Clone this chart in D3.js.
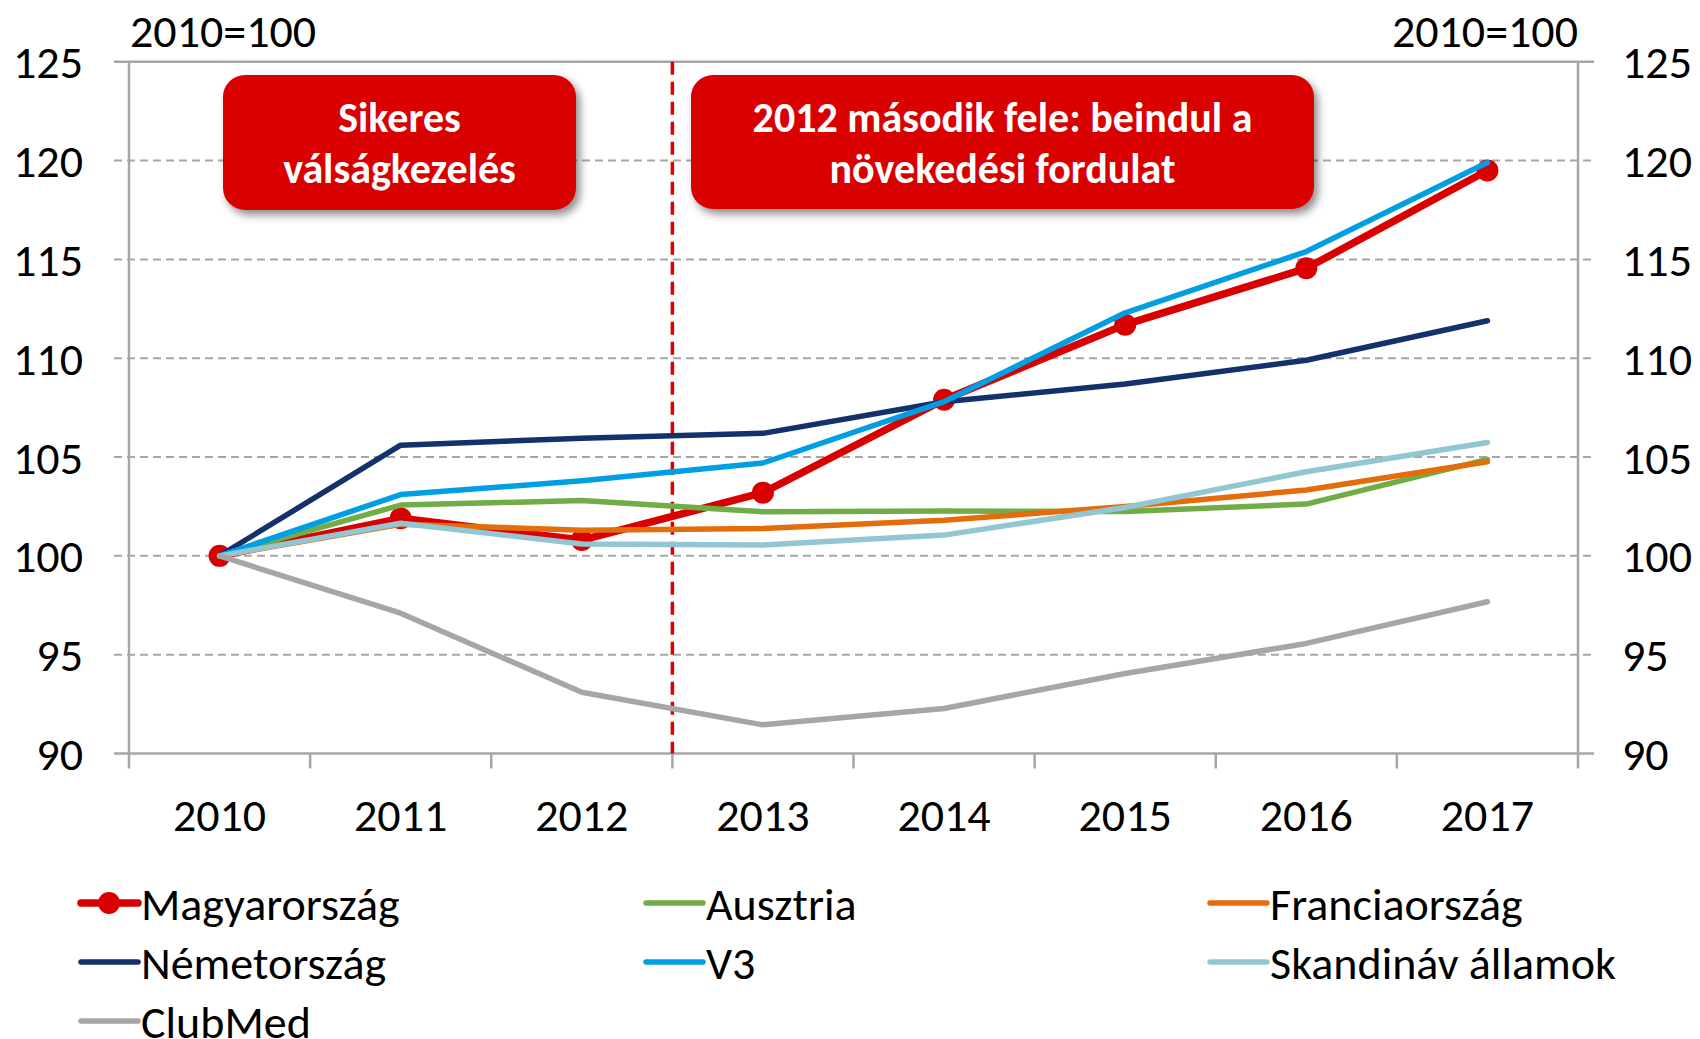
<!DOCTYPE html>
<html><head><meta charset="utf-8">
<script src="https://cdn.jsdelivr.net/npm/d3@7"></script>
<style>body{margin:0;background:#fff}svg{display:block}text{font-family:Carlito,Calibri,Lato,sans-serif}</style>
</head><body><svg id="c" width="1700" height="1039"></svg>
<script>
const years = ["2010","2011","2012","2013","2014","2015","2016","2017"];
const yTicks = [90,95,100,105,110,115,120,125];
const magyarorszag = [100,101.9,100.8,103.2,107.9,111.7,114.55,119.5];
const ausztria = [100,102.57,102.8,102.23,102.27,102.25,102.62,104.88];
const franciaorszag = [100,101.6,101.3,101.38,101.8,102.5,103.33,104.76];
const nemetorszag = [100,105.6,105.95,106.2,107.8,108.7,109.9,111.9];
const v3 = [100,103.1,103.8,104.7,107.8,112.3,115.4,119.9];
const skandinav = [100,101.65,100.6,100.55,101.05,102.45,104.26,105.74];
const clubmed = [100,97.1,93.1,91.45,92.28,94.05,95.57,97.68];
const seriesNames = ["Magyarország","Ausztria","Franciaország","Németország","V3","Skandináv államok","ClubMed"];
const seriesColors = ["#d90000","#70ad47","#e46c0a","#14316b","#009fe3","#92c6d2","#a6a6a6"];
const unitLabel = "2010=100";
const box1Lines = ["Sikeres","válságkezelés"];
const box2Lines = ["2012 második fele: beindul a","növekedési fordulat"];

const seriesValues = [magyarorszag,ausztria,franciaorszag,nemetorszag,v3,skandinav,clubmed];
const svg = d3.select("#c");
const L=129,R=1578,T=61.8,B=753.5;
const FS=46;
const xb = d3.scaleBand().domain(years).range([L,R]).paddingInner(0).paddingOuter(0);
const x = d => xb(d)+xb.bandwidth()/2;
const y = d3.scaleLinear().domain([90,125]).range([B,T]);
const grid="#a6a6a6";

const defs=svg.append("defs");
const f=defs.append("filter").attr("id","sh").attr("x","-10%").attr("y","-10%").attr("width","130%").attr("height","140%");
f.append("feDropShadow").attr("dx",4).attr("dy",5).attr("stdDeviation",4).attr("flood-color","#000").attr("flood-opacity",0.45);

svg.append("g").selectAll("line").data(yTicks.filter(v=>v!==90 && v!==125)).join("line")
 .attr("x1",L-15).attr("x2",R+16).attr("y1",d=>y(d)).attr("y2",d=>y(d))
 .attr("stroke",grid).attr("stroke-width",2).attr("stroke-dasharray","8,5");
svg.append("line").attr("x1",L-15).attr("x2",R+16).attr("y1",y(125)).attr("y2",y(125)).attr("stroke",grid).attr("stroke-width",2.5);
const ax=svg.append("g");
ax.append("line").attr("x1",L).attr("x2",L).attr("y1",T).attr("y2",B+15).attr("stroke",grid).attr("stroke-width",2.5);
ax.append("line").attr("x1",R).attr("x2",R).attr("y1",T).attr("y2",B+15).attr("stroke",grid).attr("stroke-width",2.5);
ax.append("line").attr("x1",L-15).attr("x2",R+16).attr("y1",B).attr("y2",B).attr("stroke",grid).attr("stroke-width",2.5);
ax.selectAll(".xt").data(years.slice(1)).join("line").attr("class","xt")
 .attr("x1",d=>xb(d)).attr("x2",d=>xb(d)).attr("y1",B).attr("y2",B+15).attr("stroke",grid).attr("stroke-width",2.5);

svg.append("g").selectAll("text").data(yTicks).join("text")
 .attr("x",83).attr("y",d=>y(d)).attr("dy","0.36em").attr("text-anchor","end")
 .attr("font-size",FS).attr("fill","#000").text(d=>d);
svg.append("g").selectAll("text").data(yTicks).join("text")
 .attr("x",1622).attr("y",d=>y(d)).attr("dy","0.36em").attr("text-anchor","start")
 .attr("font-size",FS).attr("fill","#000").text(d=>d);
svg.append("g").selectAll("text").data(years).join("text")
 .attr("x",d=>x(d)).attr("y",814).attr("dy","0.36em").attr("text-anchor","middle")
 .attr("font-size",FS).attr("fill","#000").text(d=>d);
svg.append("text").attr("x",130).attr("y",30).attr("dy","0.36em").attr("font-size",FS).text(unitLabel);
svg.append("text").attr("x",1578).attr("y",30).attr("dy","0.36em").attr("text-anchor","end").attr("font-size",FS).text(unitLabel);

svg.append("line").attr("x1",xb("2013")).attr("x2",xb("2013")).attr("y1",T).attr("y2",B)
 .attr("stroke","#e00000").attr("stroke-width",3.5).attr("stroke-dasharray","13,7");

function box(x0,y0,w,h,lines){
  const g=svg.append("g");
  g.append("rect").attr("x",x0).attr("y",y0).attr("width",w).attr("height",h).attr("rx",22).attr("ry",22)
   .attr("fill","#d90000").attr("filter","url(#sh)");
  g.selectAll("text").data(lines).join("text").attr("x",x0+w/2).attr("y",(d,i)=>y0+h/2+(i-0.5)*51)
   .attr("dy","0.36em").attr("text-anchor","middle").attr("fill","#fff").attr("font-weight","bold").attr("font-size",42).text(d=>d);
}
box(223,75,353,135,box1Lines);
box(691,75,623,134,box2Lines);

const line=d3.line().x((d,i)=>x(years[i])).y(d=>y(d));
const lg=svg.append("g");
seriesValues.forEach((vals,si)=>{
  lg.append("path").datum(vals).attr("d",line).attr("fill","none").attr("stroke",seriesColors[si])
    .attr("stroke-width",si===0?7.5:5.5).attr("stroke-linejoin","round").attr("stroke-linecap","round");
  if(si===0){
    lg.append("g").selectAll("circle").data(vals).join("circle").attr("cx",(d,i)=>x(years[i])).attr("cy",d=>y(d))
     .attr("r",11).attr("fill",seriesColors[0]);
  }
});

const legX=[81,646,1210], legY=[903,962,1021];
const leg=svg.append("g");
seriesNames.forEach((n,i)=>{
  const c=i%3, r=Math.floor(i/3);
  const gx=legX[c], gy=legY[r];
  leg.append("line").attr("x1",gx).attr("x2",gx+57).attr("y1",gy).attr("y2",gy).attr("stroke",seriesColors[i])
   .attr("stroke-width",i===0?7.5:5.5).attr("stroke-linecap","round");
  if(i===0) leg.append("circle").attr("cx",gx+28).attr("cy",gy).attr("r",11).attr("fill",seriesColors[0]);
  leg.append("text").attr("x",gx+60).attr("y",gy).attr("dy","0.36em").attr("font-size",FS).text(n);
});
</script></body></html>
